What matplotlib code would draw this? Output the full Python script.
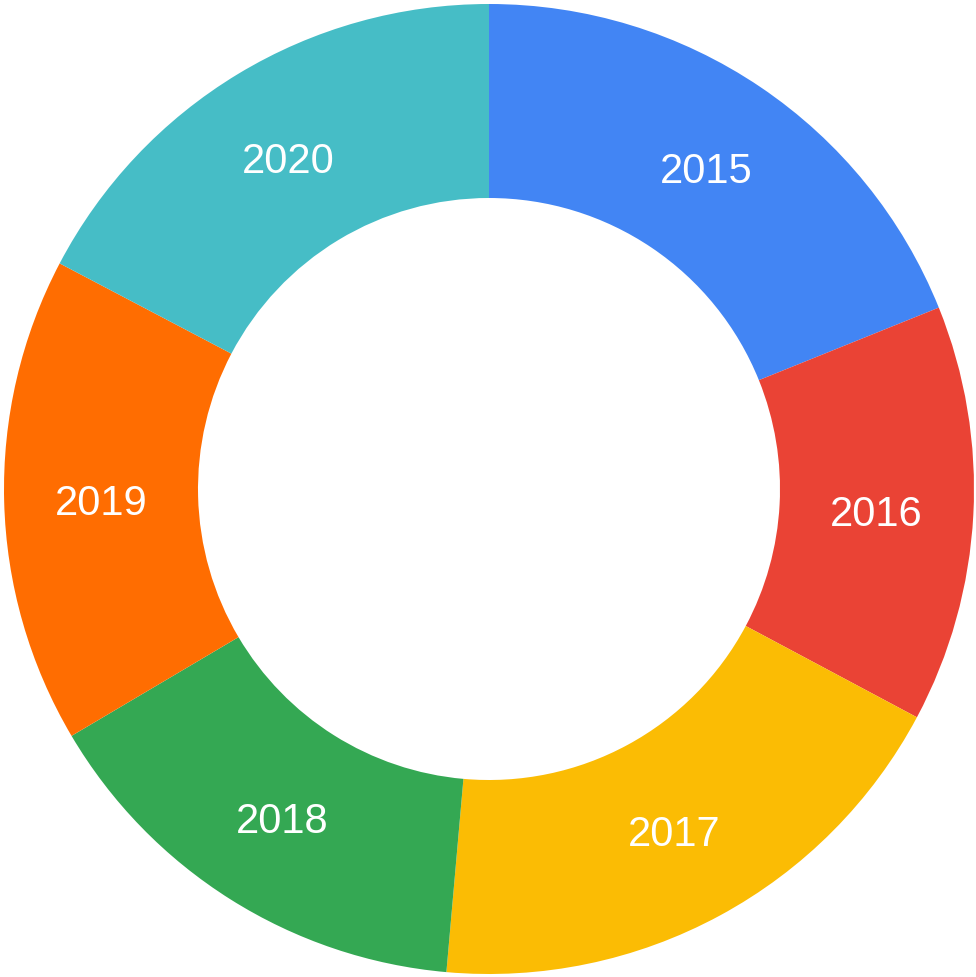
import numpy as np
import matplotlib
matplotlib.use("Agg")
import matplotlib.pyplot as plt
import matplotlib.transforms as mtransforms

years = ["2015", "2016", "2017", "2018", "2019", "2020"]
values = [18.9, 13.9, 18.6, 15.1, 16.2, 17.3]
colors = ["#4285F4", "#EA4335", "#FBBC04", "#34A853", "#FF6D01", "#46BDC6"]

plt.rcParams["font.family"] = ["Liberation Sans", "DejaVu Sans"]

fig = plt.figure(figsize=(9.76, 9.78), dpi=100)
# circle centre around (489, 490) px, radius ~485 px
ax = fig.add_axes([4 / 976, 3 / 978, 970 / 976, 970 / 978])

wedges, texts = ax.pie(values, colors=colors, startangle=90, counterclock=False,
                       wedgeprops=dict(width=0.4, linewidth=0),
                       labels=years, labeldistance=0.8,
                       textprops=dict(color="white", fontsize=30, ha="center", va="center"))

# nudge labels down a few pixels
shift = mtransforms.ScaledTranslation(0, -4 / 100, fig.dpi_scale_trans)
for t in texts:
    t.set_transform(t.get_transform() + shift)

ax.set_xlim(-1, 1)
ax.set_ylim(-1, 1)
ax.set_aspect("equal")
ax.axis("off")

fig.savefig("out.png", dpi=100)
